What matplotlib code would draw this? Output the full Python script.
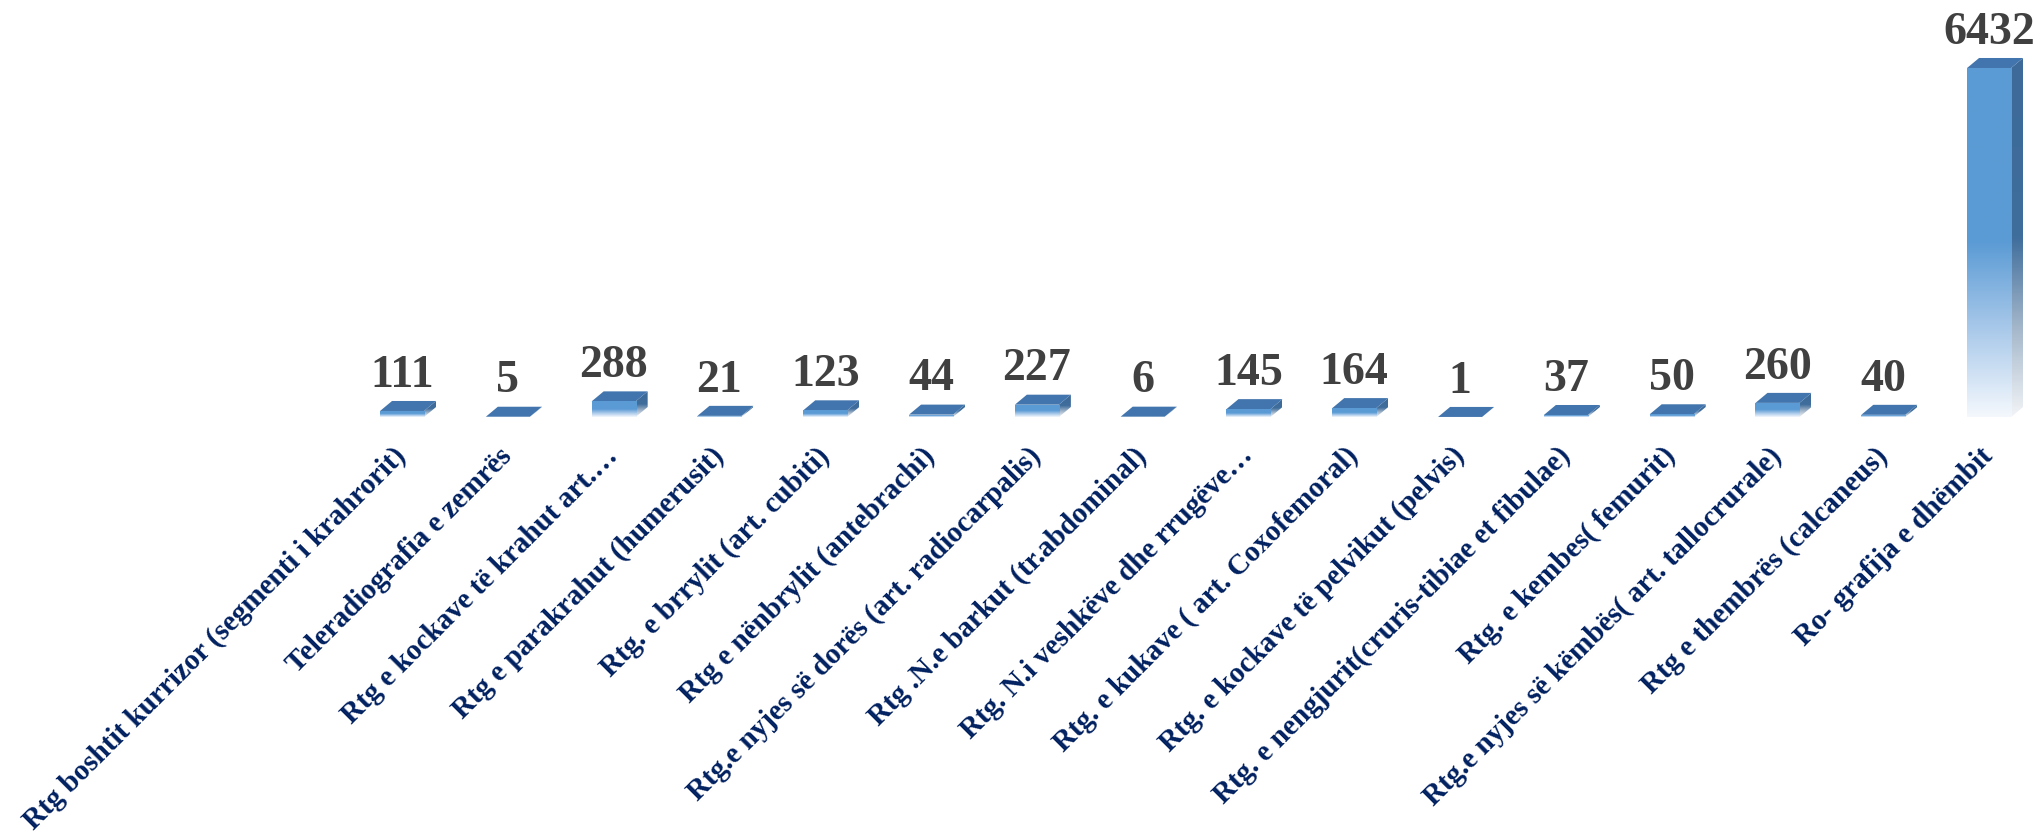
import matplotlib
matplotlib.use("Agg")
import matplotlib.pyplot as plt
import numpy as np
from matplotlib.colors import LinearSegmentedColormap
from matplotlib.patches import Polygon

# Data
categories = [
    "Rtg boshtit kurrizor (segmenti i krahrorit)",
    "Teleradiografia e zemrës",
    "Rtg e kockave të krahut art.…",
    "Rtg e parakrahut (humerusit)",
    "Rtg. e brrylit (art. cubiti)",
    "Rtg e nënbrylit (antebrachi)",
    "Rtg.e nyjes së dorës (art. radiocarpalis)",
    "Rtg .N.e barkut (tr.abdominal)",
    "Rtg. N.i veshkëve dhe rrugëve…",
    "Rtg. e kukave ( art. Coxofemoral)",
    "Rtg. e kockave të pelvikut (pelvis)",
    "Rtg. e nengjurit(cruris-tibiae et fibulae)",
    "Rtg. e kembes( femurit)",
    "Rtg.e nyjes së këmbës( art. tallocrurale)",
    "Rtg e thembrës (calcaneus)",
    "Ro- grafija e dhëmbit",
]
counts = [111, 5, 288, 21, 123, 44, 227, 6, 145, 164, 1, 37, 50, 260, 40, 6432]

front_cmap = LinearSegmentedColormap.from_list(
    "front", [(0.0, "#f4f8fd"), (0.25, "#a9c9ea"), (0.5, "#5b9bd5"), (1.0, "#5b9bd5")])
side_cmap = LinearSegmentedColormap.from_list(
    "side", [(0.0, "#f2f4f7"), (0.25, "#a3b6ca"), (0.5, "#3f6d9c"), (1.0, "#3d6a98")])
top_color = "#4275ad"
label_color = "#002060"
value_color = "#404040"
serif = "Liberation Serif"

fig = plt.figure(figsize=(20.42, 8.32), dpi=100)
ax = fig.add_axes([0, 0.4988, 1, 0.5012])
ax.set_xlim(-3.80, 15.50)
ax.set_ylim(0, 7685)

x = np.arange(len(counts))
bars = ax.bar(x, counts, width=0.416, color="none", linewidth=0, zorder=3)

# depth of the pseudo-3D boxes, in pixels -> data units
inv = ax.transData.inverted()
p0 = ax.transData.transform((0, 0))
ddx, ddy = inv.transform(p0 + np.array([12, 10]))

grad = np.linspace(0, 1, 256).reshape(-1, 1)
for bar, v in zip(bars, counts):
    x0 = bar.get_x()
    x1 = x0 + bar.get_width()
    # side face
    side = Polygon([(x1, 0), (x1, v), (x1 + ddx, v + ddy), (x1 + ddx, ddy)],
                   closed=True, facecolor="none", edgecolor="none")
    ax.add_patch(side)
    im = ax.imshow(grad, cmap=side_cmap, origin="lower", aspect="auto",
                   extent=(x1, x1 + ddx, 0, v + ddy), zorder=2)
    im.set_clip_path(side)
    # top face
    ax.add_patch(Polygon([(x0, v), (x1, v), (x1 + ddx, v + ddy), (x0 + ddx, v + ddy)],
                         closed=True, facecolor=top_color, edgecolor="none", zorder=2))
    # front face
    im = ax.imshow(grad, cmap=front_cmap, origin="lower", aspect="auto",
                   extent=(x0, x1, 0, v), zorder=3)
    im.set_clip_path(bar)

    ax.annotate(str(v), (bar.get_x() + bar.get_width() / 2, v),
                xytext=(0, 17.5), textcoords="offset points",
                ha="center", va="baseline", fontsize=33, fontweight="bold",
                family=serif, color=value_color, zorder=5)

ax.set_xlim(-3.80, 15.50)
ax.set_ylim(0, 7685)
ax.set_xticks(x, categories)
ax.tick_params(axis="x", length=0, pad=25)
ax.set_yticks([])
for lab in ax.get_xticklabels():
    lab.set_rotation(45)
    lab.set_ha("right")
    lab.set_va("center")
    lab.set_rotation_mode("anchor")
    lab.set_fontsize(21)
    lab.set_fontweight("bold")
    lab.set_family(serif)
    lab.set_color(label_color)
for s in ax.spines.values():
    s.set_visible(False)
ax.patch.set_alpha(0)

fig.savefig("out.png", dpi=100)
